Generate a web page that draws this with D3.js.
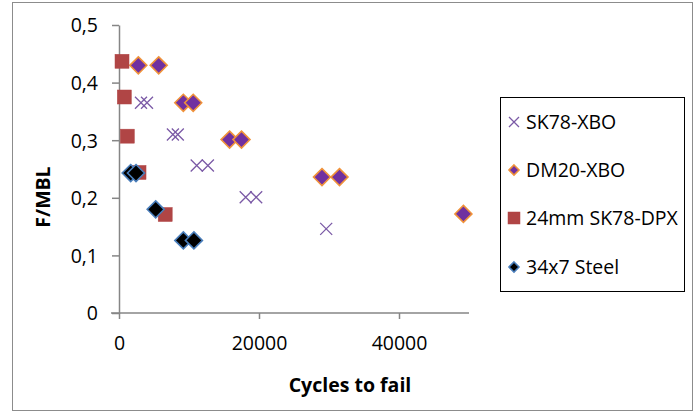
<!DOCTYPE html>
<html>
<head>
<meta charset="utf-8">
<script src="https://cdn.jsdelivr.net/npm/d3@7"></script>
<style>
  body { margin: 0; background: #fff; }
  svg { display: block; font-family: "Open Sans", Lato, sans-serif; }
</style>
</head>
<body>
<svg id="chart" width="698" height="412"></svg>
<script>
'use strict';
// Data
const sk78xbo = [[3140, 0.365], [4000, 0.365], [7700, 0.31], [8400, 0.31], [11100, 0.256], [12700, 0.256], [18100, 0.201], [19600, 0.201], [29600, 0.146]];
const dm20xbo = [[2760, 0.43], [5670, 0.43], [9190, 0.365], [10600, 0.365], [15800, 0.301], [17500, 0.301], [29000, 0.236], [31500, 0.236], [49200, 0.172]];
const sk78dpx = [[430, 0.437], [760, 0.375], [1190, 0.307], [2860, 0.244], [6600, 0.171]];
const steel = [[1670, 0.243], [2430, 0.243], [5240, 0.18], [9190, 0.126], [10700, 0.126]];
const seriesNames = ['SK78-XBO', 'DM20-XBO', '24mm SK78-DPX', '34x7 Steel'];
const xTicks = [0, 20000, 40000];
const yTicks = [0, 0.1, 0.2, 0.3, 0.4, 0.5];

const svg = d3.select('#chart');
const axisColor = '#868686';
const fontSize = 19.5;

// outer frame
svg.append('rect').attr('x', 12.5).attr('y', 2.5).attr('width', 680).attr('height', 408)
  .attr('fill', 'none').attr('stroke', '#8c8c8c');

const x = d3.scaleLinear().domain([0, 50000]).range([119, 469]);
const y = d3.scaleLinear().domain([0, 0.5]).range([313, 25]);

// axes
const gx = svg.append('g').attr('transform', `translate(0,${y(0)})`)
  .call(d3.axisBottom(x).tickValues(xTicks).tickSize(6).tickSizeOuter(0).tickFormat(d3.format('d')));
const gy = svg.append('g').attr('transform', `translate(${x(0)},0)`)
  .call(d3.axisLeft(y).tickValues(yTicks).tickSize(7).tickSizeOuter(0).tickFormat(d => d === 0 ? '0' : d3.format('.1f')(d).replace('.', ',')));
[gx, gy].forEach(g => {
  g.select('.domain').attr('stroke', axisColor).attr('stroke-width', 1.5);
  g.selectAll('.tick line').attr('stroke', axisColor).attr('stroke-width', 1.5);
  g.selectAll('.tick text').attr('fill', '#000').attr('font-size', fontSize)
    .attr('font-family', '"Open Sans", Lato, sans-serif');
});
gx.selectAll('.tick text').attr('y', 30).attr('dy', '0.35em');
gy.selectAll('.tick text').attr('x', -21).attr('dy', '0.35em');
// extend x axis domain to the start like Excel
gx.select('.domain').attr('d', `M${x(0) - 8},0H${x(50000)}`);

// axis titles
svg.append('text').attr('x', 350).attr('y', 385).attr('dy', '0.35em').attr('text-anchor', 'middle')
  .attr('font-size', fontSize).attr('font-weight', 'bold').text('Cycles to fail');
svg.append('text').attr('transform', 'translate(43,197) rotate(-90)').attr('dy', '0.35em').attr('text-anchor', 'middle')
  .attr('font-size', fontSize).attr('font-weight', 'bold').text('F/MBL');

// marker drawers
function drawX(g, s) {
  g.append('path').attr('d', `M${-s},${-s}L${s},${s}M${-s},${s}L${s},${-s}`)
    .attr('stroke', '#7b5aa6').attr('stroke-width', 1.3).attr('fill', 'none');
}
function drawDiamond(fill, stroke) {
  return (g, s) => g.append('path').attr('d', `M0,${-s}L${s},0L0,${s}L${-s},0Z`)
    .attr('fill', fill).attr('stroke', stroke).attr('stroke-width', 1.6);
}
function drawSquare(g, s) {
  g.append('rect').attr('x', -s).attr('y', -s).attr('width', 2 * s).attr('height', 2 * s)
    .attr('fill', '#b04545').attr('stroke', '#b04545').attr('stroke-width', 0.5);
}
const drawers = [drawX, drawDiamond('#7030a0', '#f0923a'), drawSquare, drawDiamond('#000', '#4a7ebb')];
const sizes = [6, 8.5, 7, 8.5];

const plot = svg.append('g');
function plotSeries(data, i) {
  plot.append('g').selectAll('g').data(data).enter().append('g')
    .attr('transform', d => `translate(${x(d[0])},${y(d[1])})`)
    .each(function () { drawers[i](d3.select(this), sizes[i]); });
}
plotSeries(sk78xbo, 0);
plotSeries(dm20xbo, 1);
plotSeries(sk78dpx, 2);
plotSeries(steel, 3);

// legend
const legend = svg.append('g');
legend.append('rect').attr('x', 500.5).attr('y', 97.5).attr('width', 184).attr('height', 194)
  .attr('fill', '#fff').attr('stroke', '#000');
const legendY = [122, 170, 218, 267];
const legendSizes = [5, 5, 6, 5];
seriesNames.forEach((name, i) => {
  const g = legend.append('g').attr('transform', `translate(514,${legendY[i]})`);
  drawers[i](g, legendSizes[i]);
  legend.append('text').attr('x', 526).attr('y', legendY[i]).attr('dy', '0.35em')
    .attr('font-size', fontSize).text(name);
});
</script>
</body>
</html>
